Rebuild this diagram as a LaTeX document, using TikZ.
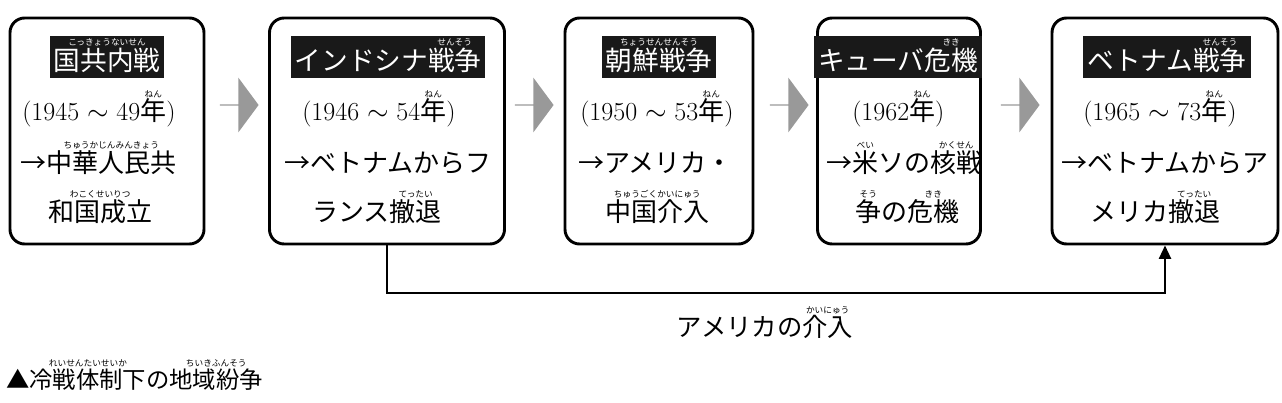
\documentclass[tikz,border=0pt]{standalone}
\usepackage{fontspec}
\newfontfamily\jp{Noto Sans CJK JP}
\usetikzlibrary{shapes.arrows,arrows.meta}
\newcommand\rb[2]{\leavevmode\setbox0\hbox{#1}\rlap{\raisebox{\dimexpr\ht0+1.2pt\relax}[0pt][0pt]{\makebox[\wd0]{\jp\fontsize{6.5}{6.5}\selectfont #2}}}\box0}
\newcommand\yr[2]{{\rmfamily (#1 $\sim$ #2}\rb{\jp 年}{ねん}{\rmfamily )}}
\begin{document}
\begin{tikzpicture}[x=0.75pt,y=-0.75pt,
  box/.style={draw,line width=2.2pt,rounded corners=11pt},
  ttl/.style={fill=black!90,text=white,font=\jp\fontsize{20}{20}\selectfont,text height=24pt,text depth=4.5pt,inner xsep=3pt,inner ysep=1.5pt},
  ln/.style={anchor=base west,inner sep=0pt,font=\jp\fontsize{19.5}{19.5}\selectfont},
  garrow/.style={single arrow,fill=black!40,draw=none,minimum height=29pt,minimum width=41pt,single arrow head extend=7.5pt,single arrow tip angle=107,inner sep=0pt}]
\useasboundingbox (0,0) rectangle (1282,403);
% boxes
\node[box,minimum width=194*0.75pt,minimum height=226*0.75pt] (b1) at (107,131) {};
\node[box,minimum width=235*0.75pt,minimum height=226*0.75pt] (b2) at (387,131) {};
\node[box,minimum width=188*0.75pt,minimum height=226*0.75pt] (b3) at (659,131) {};
\node[box,minimum width=163*0.75pt,minimum height=226*0.75pt] (b4) at (899,131) {};
\node[box,minimum width=226*0.75pt,minimum height=226*0.75pt] (b5) at (1165,131) {};
% titles
\node[ttl] (t1) at (107,57) {\rb{国共内戦}{こっきょうないせん}};
\node[ttl] (t2) at (388,57) {インドシナ\rb{戦争}{せんそう}};
\node[ttl] (t3) at (659,57) {\rb{朝鮮戦争}{ちょうせんせんそう}};
\node[ttl] (t4) at (898,57) {キューバ\rb{危機}{きき}};
\node[ttl] (t5) at (1167,57) {ベトナム\rb{戦争}{せんそう}};
% box 1
\node[ln] (l11) at (22,121) {\yr{1945}{49}};
\node[ln] (l12) at (20,172) {→\rb{中華人民共}{ちゅうかじんみんきょう}};
\node[ln] (l13) at (48,221) {\rb{和国成立}{わこくせいりつ}};
% box 2
\node[ln] (l21) at (302,121) {\yr{1946}{54}};
\node[ln] (l22) at (284,172) {→ベトナムからフ};
\node[ln] (l23) at (312,221) {ランス\rb{撤退}{てったい}};
% box 3
\node[ln] (l31) at (580,121) {\yr{1950}{53}};
\node[ln] (l32) at (578,172) {→アメリカ・};
\node[ln] (l33) at (605,221) {\rb{中国介入}{ちゅうごくかいにゅう}};
% box 4
\node[ln] (l41) at (852,121) {{\rmfamily (1962}\rb{年}{ねん}{\rmfamily )}};
\node[ln] (l42) at (826,172) {→\rb{米}{べい}ソの\rb{核戦}{かくせん}};
\node[ln] (l43) at (855,221) {\rb{争}{そう}の\rb{危機}{きき}};
% box 5
\node[ln] (l51) at (1083,121) {\yr{1965}{73}};
\node[ln] (l52) at (1061,172) {→ベトナムからア};
\node[ln] (l53) at (1090,221) {メリカ\rb{撤退}{てったい}};
% gray arrows
\node[garrow] (a1) at (239,105) {};
\node[garrow] (a2) at (534,105) {};
\node[garrow] (a3) at (789,105) {};
\node[garrow] (a4) at (1020,105) {};
% connector
\draw[line width=1.5pt,-{Triangle[length=10pt,width=9pt]}] (b2.south) -- ++(0,48) -| (b5.south);
\node[inner sep=0pt,font=\jp\fontsize{19}{19}\selectfont] (lab) at (765,327) {アメリカの\rb{介入}{かいにゅう}};
% caption
\node[anchor=base west,inner sep=0pt,font=\jp\fontsize{17.5}{17.5}\selectfont] (cap) at (6,388) {▲\rb{冷戦体制下}{れいせんたいせいか}の\rb{地域紛争}{ちいきふんそう}};
\end{tikzpicture}
\end{document}
